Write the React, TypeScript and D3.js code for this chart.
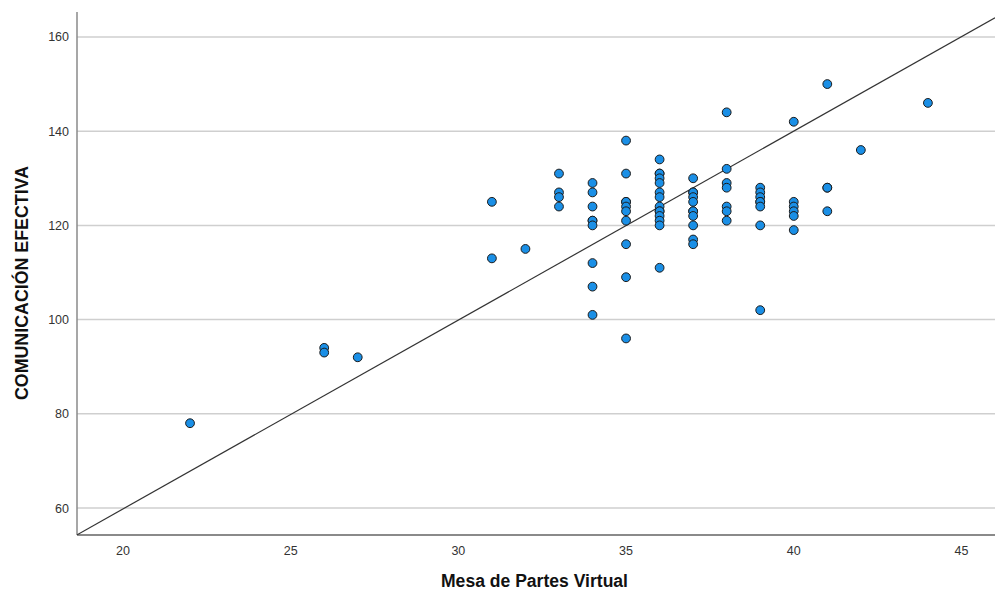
import React from "react";
import * as d3 from "d3";

const xValues: number[] = [
  22,
  26, 26,
  27,
  31, 31,
  32,
  33, 33, 33, 33,
  34, 34, 34, 34, 34, 34, 34, 34, 34,
  35, 35, 35, 35, 35, 35, 35, 35, 35, 35,
  36, 36, 36, 36, 36, 36, 36, 36, 36, 36, 36, 36, 36, 36,
  37, 37, 37, 37, 37, 37, 37, 37, 37, 37, 37,
  38, 38, 38, 38, 38, 38, 38,
  39, 39, 39, 39, 39, 39, 39, 39,
  40, 40, 40, 40, 40, 40,
  41, 41, 41, 41,
  42,
  44,
];
const yValues: number[] = [
  78,
  94, 93,
  92,
  125, 113,
  115,
  131, 127, 126, 124,
  129, 127, 124, 121, 121, 120, 112, 107, 101,
  138, 131, 125, 125, 124, 123, 121, 116, 109, 96,
  134, 131, 131, 130, 129, 127, 126, 124, 123, 123, 122, 121, 120, 111,
  130, 127, 127, 126, 125, 123, 123, 122, 120, 117, 116,
  144, 132, 129, 128, 124, 123, 121,
  128, 127, 126, 125, 125, 124, 120, 102,
  142, 125, 124, 123, 122, 119,
  150, 128, 128, 123,
  136,
  146,
];
const xTicks: number[] = [20, 25, 30, 35, 40, 45];
const yTicks: number[] = [60, 80, 100, 120, 140, 160];
const fitIntercept = -20.4;
const fitSlope = 4.01;
const xTitle = "Mesa de Partes Virtual";
const yTitle = "COMUNICACIÓN EFECTIVA";

export default function App() {
  const W = 995, H = 596;
  const left = 77, right = 995, top = 12, bottom = 535;
  const x = d3.scaleLinear().domain([18.63, 46.0]).range([left, right]);
  const y = d3.scaleLinear().domain([54.27, 165.3]).range([bottom, top]);
  const pts = xValues.map((v, i) => ({ x: v, y: yValues[i] }));
  const x0 = 18.63, x1 = 46.0;
  const line = d3.line<[number, number]>().x(d => x(d[0])).y(d => y(d[1]));
  const fit = line([[x0, fitIntercept + fitSlope * x0], [x1, fitIntercept + fitSlope * x1]]);
  const font = "'Liberation Sans', Arial, sans-serif";
  return (
    <svg width={W} height={H} style={{ position: "absolute", left: 0, top: 0, background: "#fff" }}>
      <defs>
        <clipPath id="plot">
          <rect x={left} y={top} width={right - left} height={bottom - top} />
        </clipPath>
      </defs>
      {yTicks.map(t => (
        <line key={"g" + t} x1={left} x2={right} y1={y(t)} y2={y(t)} stroke="#cfcfcf" strokeWidth={1.5} />
      ))}
      <line x1={left} x2={left} y1={top} y2={bottom} stroke="#8a8a8a" strokeWidth={1.5} />
      <line x1={left} x2={right} y1={bottom} y2={bottom} stroke="#8a8a8a" strokeWidth={2} />
      {yTicks.map(t => (
        <text key={"yt" + t} x={left - 8} y={y(t) + 4.5} textAnchor="end" fontFamily={font} fontSize={12.5} fill="#333">{t}</text>
      ))}
      {xTicks.map(t => (
        <text key={"xt" + t} x={x(t)} y={bottom + 20} textAnchor="middle" fontFamily={font} fontSize={12.5} fill="#333">{t}</text>
      ))}
      <path d={fit || ""} clipPath="url(#plot)" fill="none" stroke="#333" strokeWidth={1.2} />
      {pts.map((p, i) => (
        <circle key={i} cx={x(p.x)} cy={y(p.y)} r={4.4} fill="#1a8fe6" stroke="#1b1b1b" strokeWidth={1} />
      ))}
      <text x={534.5} y={587} textAnchor="middle" fontFamily={font} fontSize={17.5} fontWeight="bold" fill="#111" textLength={187} lengthAdjust="spacingAndGlyphs">{xTitle}</text>
      <text transform={`translate(28, 283) rotate(-90)`} textAnchor="middle" fontFamily={font} fontSize={17.5} fontWeight="bold" fill="#111" textLength={234} lengthAdjust="spacingAndGlyphs">{yTitle}</text>
    </svg>
  );
}
